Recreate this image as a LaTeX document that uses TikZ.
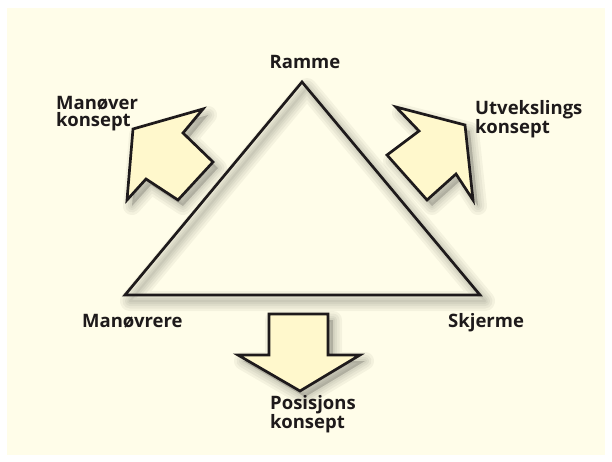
\documentclass[tikz,border=0pt]{standalone}
\usepackage{fontspec}
\newfontfamily\lblfont{Open Sans}
\definecolor{paper}{RGB}{255,253,233}
\definecolor{arrowfill}{RGB}{255,248,204}
\definecolor{ink}{RGB}{30,26,27}
\tikzset{frame/.style={draw=ink, line width=2.7pt, line join=miter},
bigarrow/.style={draw=ink, fill=arrowfill, line width=2.7pt, line join=miter},
%soft shadow, drawn in layers
blur/.style={draw=black, opacity=0.045, line join=round, transform canvas={shift={(5pt,-6pt)}}},
lbl/.style={font=\lblfont\bfseries\fontsize{18.5}{17.5}\selectfont, text=ink, inner sep=0pt, align=left}}

\begin{document}
\begin{tikzpicture}[x=1pt, y=-1pt]

\useasboundingbox (0,0) rectangle (612,461);
\fill[white] (0,0) rectangle (612,461);
\fill[paper] (7,8) rectangle (605,455);

\coordinate (top)   at (302, 82);
\coordinate (left)  at (125,295);
\coordinate (right) at (480,295);

% Manøver arrow
\coordinate (m1) at (133,129);
\coordinate (m2) at (203,109);
\coordinate (m3) at (183,133);
\coordinate (m4) at (213,162);
\coordinate (m5) at (178,200);
\coordinate (m6) at (146,179);
\coordinate (m7) at (127,200);

% Utvekslings arrow
\coordinate (u1) at (465,125);
\coordinate (u2) at (473,200);
\coordinate (u3) at (456,174);
\coordinate (u4) at (427,200);
\coordinate (u5) at (387,155);
\coordinate (u6) at (419,131);
\coordinate (u7) at (396,107);

% Posisjons arrow
\coordinate (p1) at (300,391);
\coordinate (p2) at (360,355);
\coordinate (p3) at (328,355);
\coordinate (p4) at (328,314);
\coordinate (p5) at (269,314);
\coordinate (p6) at (269,355);
\coordinate (p7) at (238,355);

\foreach \w in {20,15,10,6,2}
    \draw[blur, line width=\w pt] (top) -- (left) -- (right) -- cycle;
\foreach \a in {m,u,p}
    \foreach \w in {18,13,8,4}
        \filldraw[blur, fill=black, line width=\w pt] (\a1) -- (\a2) -- (\a3) -- (\a4) -- (\a5) -- (\a6) -- (\a7) -- cycle;

\draw[frame] (top) -- (left) -- (right) -- cycle;
\foreach \a in {m,u,p}
    \draw[bigarrow] (\a1) -- (\a2) -- (\a3) -- (\a4) -- (\a5) -- (\a6) -- (\a7) -- cycle;

\node[lbl, anchor=base] (ramme) at (305,68) {Ramme};
\node[lbl, anchor=base west] (manovrere) at (82,327) {Manøvrere};
\node[lbl, anchor=base west] (skjerme) at (448,327) {Skjerme};
\node[lbl, anchor=north west] (manover) at (56,96) {Manøver\\konsept};
\node[lbl, anchor=north west] (utveksling) at (475,100) {Utvekslings\\konsept};
\node[lbl, anchor=north west] (posisjon) at (270,395) {Posisjons\\konsept};

\end{tikzpicture}
\end{document}
